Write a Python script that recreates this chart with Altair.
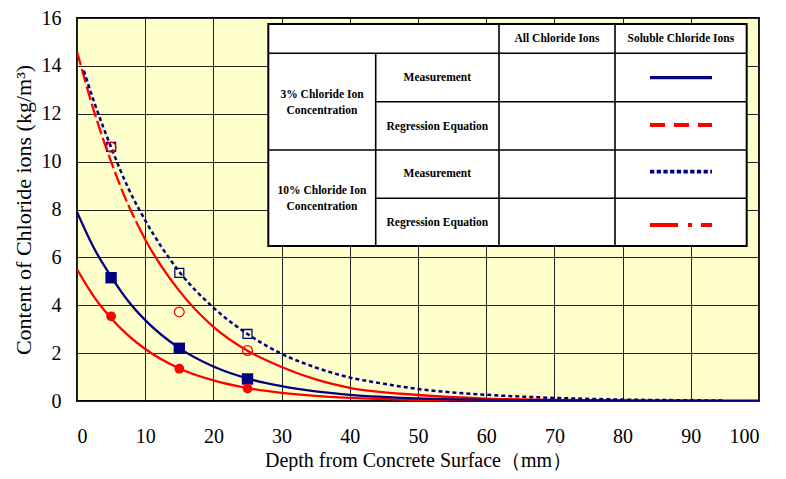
import altair as alt
import pandas as pd

# ---------------- data ----------------
# 3% measurement (navy solid, filled squares)
x_blue_solid = [0, 2.5, 5, 7.5, 10, 15, 20, 25, 30, 35, 40, 50, 60, 70, 80, 90, 100]
y_blue_solid = [7.9, 6.38, 5.2, 4.18, 3.38, 2.21, 1.44, 0.94, 0.62, 0.40, 0.26, 0.11, 0.05, 0.02, 0.01, 0.0, 0.0]
# lower red curve (red solid, filled circles)
x_red_low = [0, 2.5, 5, 7.5, 10, 15, 20, 25, 30, 35, 40, 50, 60, 70, 80, 90, 100]
y_red_low = [5.5, 4.35, 3.46, 2.74, 2.17, 1.36, 0.86, 0.54, 0.34, 0.21, 0.13, 0.05, 0.02, 0.01, 0.0, 0.0, 0.0]
# upper red curve: dashed part near the surface, solid afterwards (open circles)
x_red_up_dash = [0, 2.5, 5, 7.5, 9]
y_red_up_dash = [14.6, 12.1, 10.0, 8.2, 7.3]
x_red_up_solid = [9, 10, 15, 20, 25, 30, 35, 40, 50, 60, 70, 80, 90, 100]
y_red_up_solid = [7.3, 6.75, 4.6, 3.1, 2.1, 1.42, 0.9, 0.55, 0.25, 0.1, 0.05, 0.02, 0.01, 0.0]
# 10% measurement (navy dotted, open squares)
x_blue_dot = [1, 2.5, 5, 7.5, 10, 15, 20, 25, 30, 35, 40, 45, 50, 55, 60, 70, 80, 90, 95]
y_blue_dot = [13.8, 12.5, 10.6, 8.9, 7.55, 5.4, 3.9, 2.8, 1.97, 1.4, 0.98, 0.72, 0.5, 0.36, 0.26, 0.13, 0.06, 0.03, 0.02]

# measured points
marker_x = [5, 15, 25]
filled_square_y = [5.15, 2.2, 0.92]
filled_circle_y = [3.54, 1.35, 0.52]
open_square_y = [10.62, 5.35, 2.8]
open_circle_y = [10.6, 3.72, 2.11]

x_ticks = [0, 10, 20, 30, 40, 50, 60, 70, 80, 90, 100]
y_ticks = [0, 2, 4, 6, 8, 10, 12, 14, 16]

x_title = "Depth from Concrete Surface\uff08mm\uff09"
y_title = "Content of Chloride ions (kg/m\u00b3)"

# legend table texts
table_header = ["All Chloride Ions", "Soluble Chloride Ions"]
table_groups = [["3% Chloride Ion", "Concentration"], ["10% Chloride Ion", "Concentration"]]
table_rows = ["Measurement", "Regression Equation", "Measurement", "Regression Equation"]

NAVY = "#000080"
RED = "#FF0000"
FONT = "'Liberation Serif', 'Times New Roman', Times, serif"
W, H = 682, 383
OY = 4  # plot top is at page y 18

xs = alt.Scale(domain=[0, 100], nice=False, zero=False)
ys = alt.Scale(domain=[0, 16], nice=False, zero=False)

x_axis = alt.Axis(values=x_ticks, title=x_title, ticks=False, tickSize=0, labelPadding=25,
                  titleX=W / 2, titleY=59, titleBaseline="middle", titleAlign="center",
                  titleFontSize=20)
y_axis = alt.Axis(values=y_ticks, title=y_title, ticks=False, tickSize=0, labelPadding=16,
                  titleX=-54, titleY=H / 2, titleAngle=270, titleAlign="center", titleBaseline="middle",
                  titleFontSize=22)


def xe():
    return alt.X("x:Q", scale=xs, axis=x_axis)


def ye():
    return alt.Y("y:Q", scale=ys, axis=y_axis)


def line(xv, yv, color, width, dash=None):
    df = pd.DataFrame({"x": xv, "y": yv})
    kw = dict(color=color, strokeWidth=width, interpolate="monotone", clip=True)
    if dash:
        kw["strokeDash"] = dash
    return alt.Chart(df).mark_line(**kw).encode(x=xe(), y=ye())


def points(xv, yv, shape, size, filled, color, sw=1.3):
    df = pd.DataFrame({"x": xv, "y": yv})
    if filled:
        m = alt.Chart(df).mark_point(shape=shape, size=size, filled=True, color=color, opacity=1)
    else:
        m = alt.Chart(df).mark_point(shape=shape, size=size, filled=False, color=color,
                                     strokeWidth=sw, opacity=1)
    return m.encode(x=xe(), y=ye())


layers = [
    line(x_red_up_solid, y_red_up_solid, RED, 2.3),
    line(x_red_up_dash, y_red_up_dash, RED, 2.3, [14, 4]),
    line(x_red_low, y_red_low, RED, 2.3),
    line(x_blue_solid, y_blue_solid, NAVY, 2.3),
    line(x_blue_dot, y_blue_dot, NAVY, 2.5, [4, 3]),
    points(marker_x, filled_square_y, "square", 130, True, NAVY),
    points(marker_x, filled_circle_y, "circle", 95, True, RED),
    points(marker_x, open_square_y, "square", 80, False, NAVY),
    points(marker_x, open_circle_y, "circle", 95, False, RED),
]

# ---------------- legend table (pixel layout, relative to plot area) ----------------
TL, TR, TT, TB = 191.3, 669.7, 10 - OY, 232 - OY
C1, C2, C3 = 298.7, 422, 538
R1, R2, R3, R4 = 39.3 - OY, 87.7 - OY, 136 - OY, 184.3 - OY

one = pd.DataFrame({"k": [0]})
layers.append(alt.Chart(one).mark_rect(fill="white", stroke="black", strokeWidth=2).encode(
    x=alt.value(TL), x2=alt.value(TR), y=alt.value(TT), y2=alt.value(TB)))

seg = pd.DataFrame({
    "x1": [TL, C1, TL, C1, C1, C2, C3],
    "x2": [TR, TR, TR, TR, C1, C2, C3],
    "y1": [R1, R2, R3, R4, R1, TT, TT],
    "y2": [R1, R2, R3, R4, TB, TB, TB],
})
layers.append(alt.Chart(seg).mark_rule(color="black", strokeWidth=1.6).encode(
    x=alt.X("x1:Q", scale=None, axis=None), x2="x2:Q",
    y=alt.Y("y1:Q", scale=None, axis=None), y2="y2:Q"))

tx = [(C2 + C3) / 2, (C3 + TR) / 2,
      (TL + C1) / 2, (TL + C1) / 2, (TL + C1) / 2, (TL + C1) / 2,
      (C1 + C2) / 2, (C1 + C2) / 2, (C1 + C2) / 2, (C1 + C2) / 2]
ty = [v - OY for v in [24.7, 24.7, 81, 96.7, 176.7, 192.7, 63.7, 112.7, 160.3, 208.7]]
labels = table_header + table_groups[0] + table_groups[1] + table_rows
tdf = pd.DataFrame({"tx": tx, "ty": ty, "label": labels})
layers.append(alt.Chart(tdf).mark_text(font=FONT, fontSize=11.5, fontWeight="bold", color="black",
                                       align="center", baseline="middle").encode(
    x=alt.X("tx:Q", scale=None, axis=None), y=alt.Y("ty:Q", scale=None, axis=None), text="label:N"))

SX1, SX2 = 573, 635
samples = [(63.7 - OY, NAVY, 3.2, None), (111 - OY, RED, 3.8, [15, 9]),
           (157.7 - OY, NAVY, 3.8, [4.3, 2.4]), (211 - OY, RED, 3.8, [28, 10, 4, 9])]
for sy, col, sw, dash in samples:
    kw = dict(color=col, strokeWidth=sw)
    if dash:
        kw["strokeDash"] = dash
    layers.append(alt.Chart(one).mark_rule(**kw).encode(
        x=alt.value(SX1), x2=alt.value(SX2), y=alt.value(sy)))

chart = alt.layer(*layers).properties(
    width=W, height=H,
    autosize=alt.AutoSizeParams(type="none"),
    padding={"left": 69, "top": 10, "right": 19, "bottom": 70},
    background="white",
).configure_view(
    fill="#FFFFCC", stroke="black", strokeWidth=1.8
).configure_axis(
    grid=True, gridColor="#222222", gridOpacity=1, gridWidth=1, domain=False,
    labelFont=FONT, labelFontSize=20, labelColor="black",
    titleFont=FONT, titleFontWeight="normal", titleColor="black",
)

chart.save("out.html", embed_options={"renderer": "svg", "actions": False})
